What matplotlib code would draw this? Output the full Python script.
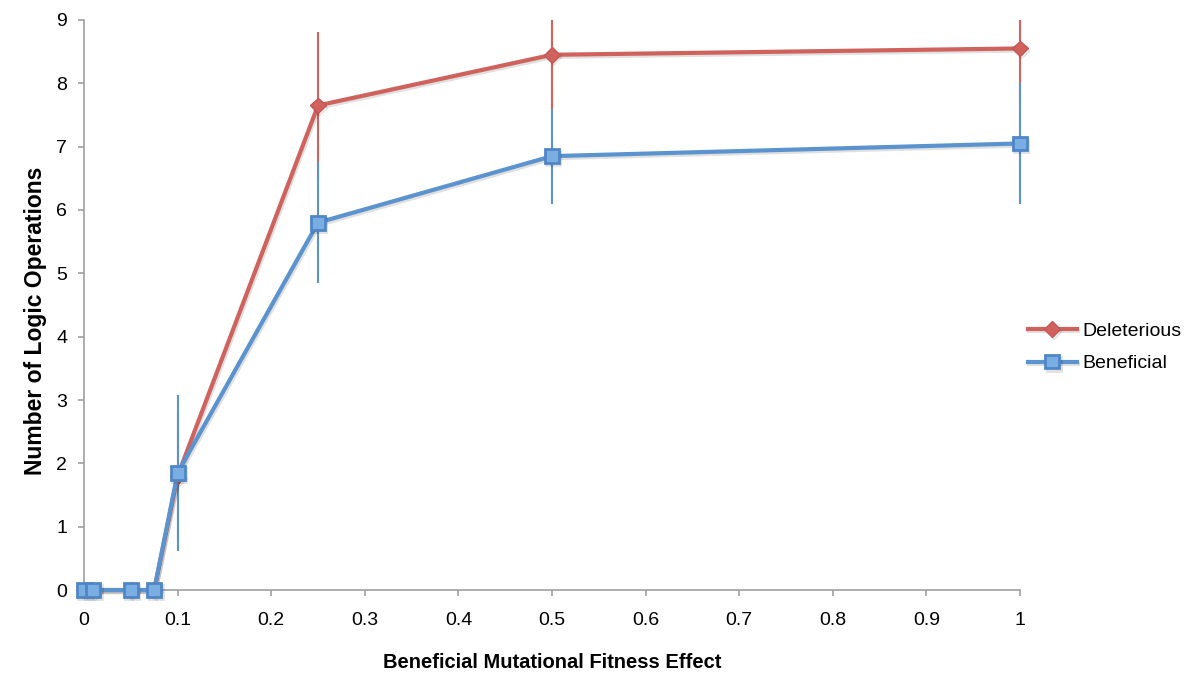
import matplotlib.pyplot as plt
import matplotlib.patheffects as pe
from matplotlib.patches import Rectangle

plt.rcParams['font.family'] = ['Liberation Sans', 'DejaVu Sans']

# fitness effect values
effect = [0, 0.01, 0.05, 0.075, 0.1, 0.25, 0.5, 1]

deleterious = [0, 0, 0, 0, 1.8, 7.65, 8.45, 8.55]
deleterious_err = [0, 0, 0, 0, 1.0, 1.16, 0.85, 0.9]

beneficial = [0, 0, 0, 0, 1.85, 5.8, 6.85, 7.05]
beneficial_err = [0, 0, 0, 0, 1.23, 0.95, 0.75, 0.95]

red = '#D0625D'
blue = '#5B93CF'

fig = plt.figure(figsize=(12, 6.88), dpi=100)
ax = fig.add_axes([0.0700, 0.1424, 0.7800, 0.8286])

shadow = [pe.SimpleLineShadow(offset=(1, -1.5), alpha=0.12), pe.Normal()]

# error bars, clipped only at the top/bottom of the axes
clip = Rectangle((-0.05, 0), 1.1, 1, transform=ax.transAxes)
for vals, errs, col, z in [(deleterious, deleterious_err, red, 2),
                           (beneficial, beneficial_err, blue, 2.5)]:
    eb = ax.errorbar(effect, vals, yerr=errs, fmt='none', ecolor=col,
                     elinewidth=1.5, capsize=0, zorder=z)
    for coll in eb.lines[2]:
        coll.set_clip_path(clip)

# lines with markers
ax.plot(effect, deleterious, color=red, lw=3, marker='D', ms=8,
        mfc=red, mec='#C65652', mew=1, label='Deleterious',
        path_effects=shadow, zorder=3, clip_on=False)
ax.plot(effect, beneficial, color=blue, lw=3, marker='s', ms=10,
        mfc='#7AAEE3', mec='#4F86C6', mew=2, label='Beneficial',
        path_effects=shadow, zorder=4, clip_on=False)

ax.set_xlim(0, 1)
ax.set_ylim(0, 9)
ax.set_xticks([0, 0.1, 0.2, 0.3, 0.4, 0.5, 0.6, 0.7, 0.8, 0.9, 1])
ax.set_xticklabels(['0', '0.1', '0.2', '0.3', '0.4', '0.5', '0.6', '0.7', '0.8', '0.9', '1'])
ax.set_yticks(range(10))

for side in ['top', 'right']:
    ax.spines[side].set_visible(False)
for side in ['left', 'bottom']:
    ax.spines[side].set_color('#A0A0A0')
    ax.spines[side].set_linewidth(1.2)
ax.tick_params(colors='#A0A0A0', labelcolor='black', labelsize=14,
               length=4, width=1.2)
ax.tick_params(axis='x', pad=12)
ax.tick_params(axis='y', pad=8)

ax.set_xlabel('Beneficial Mutational Fitness Effect', fontsize=14.5,
              fontweight='bold', labelpad=17)
ax.set_ylabel('Number of Logic Operations', fontsize=16.5,
              fontweight='bold')
ax.yaxis.set_label_coords(-0.040, 0.472)

leg = fig.legend(loc='center left', bbox_to_anchor=(0.842, 0.495),
                 frameon=False, fontsize=14, handlelength=2.5,
                 handletextpad=0.3, labelspacing=0.75)

fig.savefig('out.png', dpi=100)
